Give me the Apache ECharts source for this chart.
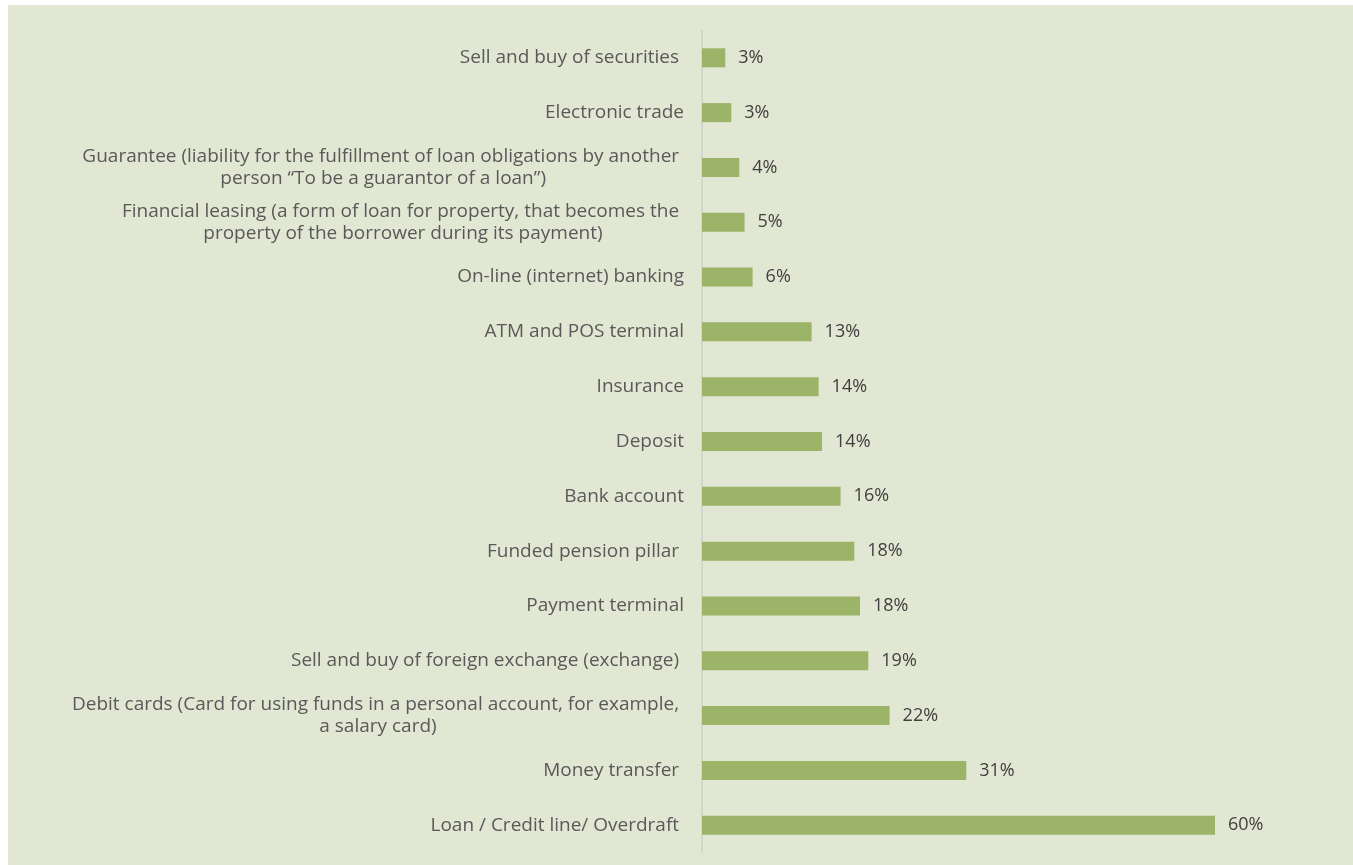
<!DOCTYPE html>
<html>
<head>
<meta charset="utf-8">
<script src="https://cdn.jsdelivr.net/npm/echarts@6/dist/echarts.min.js"></script>
<style>
  html, body { margin: 0; padding: 0; background: #ffffff; }
  #chart { position: absolute; left: 8px; top: 5px; width: 1345px; height: 860px; }
</style>
</head>
<body>
<div id="chart"></div>
<script>
const categories = [
  "Sell and buy of securities ",
  "Electronic trade",
  "Guarantee (liability for the fulfillment of loan obligations by another \nperson \u201cTo be a guarantor of a loan\u201d)",
  "Financial leasing (a form of loan for property, that becomes the \nproperty of the borrower during its payment)",
  "On-line (internet) banking",
  "ATM and POS terminal",
  "Insurance",
  "Deposit",
  "Bank account",
  "Funded pension pillar ",
  "Payment terminal",
  "Sell and buy of foreign exchange (exchange) ",
  "Debit cards (Card for using funds in a personal account, for example, \na salary card)",
  "Money transfer ",
  "Loan / Credit line/ Overdraft "
];
const values = [2.72, 3.43, 4.36, 4.98, 5.92, 12.82, 13.64, 14.04, 16.21, 17.81, 18.48, 19.45, 21.94, 30.91, 60];
const valueLabels = ["3%", "3%", "4%", "5%", "6%", "13%", "14%", "14%", "16%", "18%", "18%", "19%", "22%", "31%", "60%"];

const chart = echarts.init(document.getElementById('chart'), null, { renderer: 'canvas' });
chart.setOption({
  backgroundColor: '#e2e7d3',
  animation: false,
  grid: { left: 694, right: 52.5, top: 25.4, bottom: 12.4, containLabel: false },
  xAxis: {
    type: 'value', min: 0, max: 70,
    show: false
  },
  yAxis: {
    type: 'category',
    data: categories,
    inverse: true,
    axisLine: { show: true, lineStyle: { color: '#cfd1cb', width: 1.5 } },
    axisTick: { show: false },
    splitLine: { show: false },
    axisLabel: {
      margin: 18,
      color: '#595959',
      fontFamily: 'Open Sans',
      fontSize: 19,
      align: 'right',
      formatter: function (v) {
        if (v.indexOf('\n') < 0) return v;
        return v.split('\n').map(function (l) { return '{c|' + l + '}'; }).join('\n');
      },
      rich: {
        c: { align: 'center', color: '#595959', fontFamily: 'Open Sans', fontSize: 19, lineHeight: 22 }
      }
    }
  },
  series: [{
    type: 'bar',
    data: values,
    barWidth: 19,
    itemStyle: { color: '#9bb467' },
    label: {
      show: true,
      position: 'right',
      distance: 13,
      color: '#404040',
      fontFamily: 'Open Sans',
      fontSize: 18,
      formatter: function (p) { return valueLabels[p.dataIndex]; }
    }
  }]
});
</script>
</body>
</html>
